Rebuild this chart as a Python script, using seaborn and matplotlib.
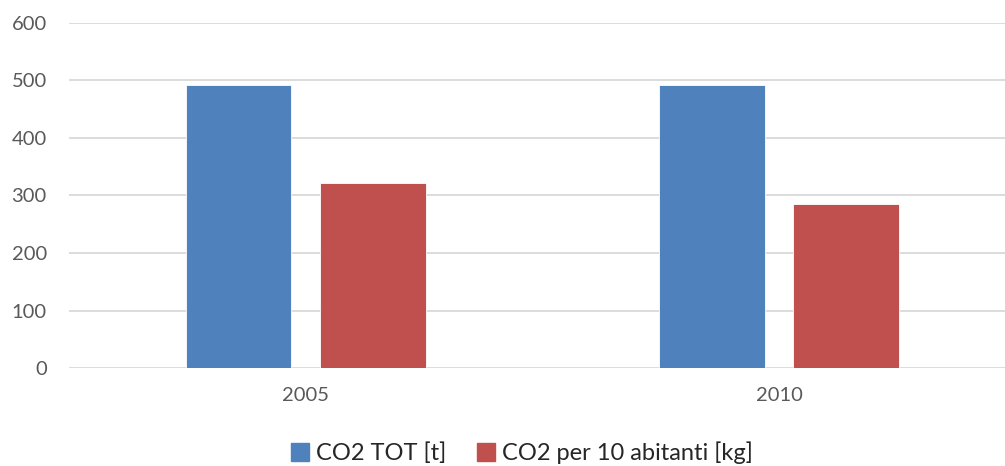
import pandas as pd
import seaborn as sns
import matplotlib.pyplot as plt

years = ['2005', '2010']
series = ['CO2 TOT [t]', 'CO2 per 10 abitanti [kg]']
co2_tot = [492, 492]
co2_per_10 = [322, 285]

data = pd.DataFrame({
    'year': years * 2,
    'serie': [series[0]] * 2 + [series[1]] * 2,
    'valore': co2_tot + co2_per_10,
})

sns.set_style('white')
plt.rcParams['font.family'] = ['Lato', 'DejaVu Sans']

fig = plt.figure(figsize=(10.05, 4.66), dpi=100)
ax = fig.add_axes([69 / 1005, 98 / 466, 946.6 / 1005, 345 / 466])

sns.barplot(
    data=data, x='year', y='valore', hue='serie',
    palette=['#4F81BD', '#C0504D'], saturation=1,
    width=0.568, gap=0.215,
    edgecolor='#FFFFFF', linewidth=0.6,
    legend=False, ax=ax, zorder=3
)

ax.set_ylim(0, 600)
ax.set_xlim(-0.5, 1.5)
ax.set_yticks(range(0, 601, 100))
ax.yaxis.grid(True, color='#D9D9D9', linewidth=1.3, zorder=0)
ax.set_axisbelow(True)
for s in ax.spines.values():
    s.set_visible(False)
ax.tick_params(axis='both', length=0, labelsize=14.5, labelcolor='#595959')
ax.tick_params(axis='y', pad=16)
ax.tick_params(axis='x', pad=14)
ax.set_xlabel('')
ax.set_ylabel('')

handles = [plt.Rectangle((0, 0), 1, 1, color=c) for c in ['#4F81BD', '#C0504D']]
fig.legend(
    handles, series, loc='center', bbox_to_anchor=(522 / 1005, 1 - 453 / 466),
    ncol=2, frameon=False, fontsize=17, handlelength=0.75, handleheight=0.75,
    handletextpad=0.3, columnspacing=1.3
)

fig.savefig('out.png', dpi=100)
